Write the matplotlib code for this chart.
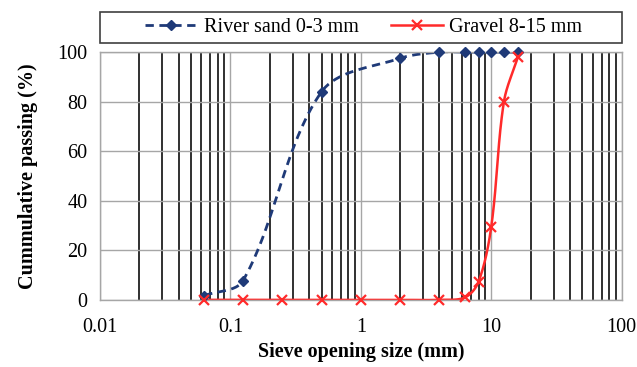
import numpy as np
import matplotlib.pyplot as plt
from matplotlib.lines import Line2D
from matplotlib.patches import Rectangle
from matplotlib.ticker import FixedLocator, FixedFormatter, NullFormatter

plt.rcParams['font.family'] = ['Liberation Serif', 'DejaVu Serif']

# Datos de granulometría (tamaño de tamiz en mm, % que pasa)
tamiz_arena = [0.063, 0.125, 0.5, 2, 4, 6.3, 8, 10, 12.5, 16]
pasa_arena = [1.7, 7.8, 84, 97.5, 100, 100, 100, 100, 100, 100]

tamiz_grava = [0.063, 0.125, 0.25, 0.5, 1, 2, 4, 6.3, 8, 10, 12.5, 16]
pasa_grava = [0, 0, 0, 0, 0, 0, 0, 1, 7.4, 29.6, 80, 98]

etiqueta_arena = "River sand 0-3 mm"
etiqueta_grava = "Gravel 8-15 mm"
ticks_x = [0.01, 0.1, 1, 10, 100]
etiquetas_x = ["0.01", "0.1", "1", "10", "100"]
ticks_y = [0, 20, 40, 60, 80, 100]

color_arena = "#1f3a78"
color_grava = "#ff2a2a"

# escala aproximada en píxeles (por década / por %) para el suavizado
PX_DECADA, PX_PCT = 130.5, 2.48


def curva_suave(x, y, n=40):
    """Línea suavizada estilo Excel (Bezier con tangentes ponderadas por distancia)."""
    p = np.column_stack([np.log10(np.asarray(x, float)) * PX_DECADA,
                         np.asarray(y, float) * PX_PCT])
    p_ext = np.vstack([p[0], p, p[-1]])
    t = np.linspace(0, 1, n)[:, None]
    tramos = []
    for i in range(len(p) - 1):
        p0, p1, p2, p3 = p_ext[i], p_ext[i + 1], p_ext[i + 2], p_ext[i + 3]
        d01 = np.hypot(*(p1 - p0))
        d12 = np.hypot(*(p2 - p1))
        d23 = np.hypot(*(p3 - p2))
        c1 = p1 + (p2 - p0) * d12 / (d01 + d12) / 3
        c2 = p2 - (p3 - p1) * d12 / (d12 + d23) / 3
        b = (1 - t) ** 3 * p1 + 3 * (1 - t) ** 2 * t * c1 + 3 * (1 - t) * t ** 2 * c2 + t ** 3 * p2
        tramos.append(b if i == 0 else b[1:])
    b = np.vstack(tramos)
    return 10 ** (b[:, 0] / PX_DECADA), b[:, 1] / PX_PCT


fig = plt.figure(figsize=(6.37, 3.67), dpi=100)
ax = fig.add_axes([0.157, 0.183, 0.819, 0.675])

ax.set_xscale('log')
ax.set_xlim(0.01, 100)
ax.set_ylim(0, 100)

# Rejilla
ax.xaxis.set_major_locator(FixedLocator(ticks_x))
ax.xaxis.set_major_formatter(FixedFormatter(etiquetas_x))
ax.xaxis.set_minor_locator(FixedLocator([m * 10.0 ** e for e in range(-2, 2) for m in range(2, 10)]))
ax.xaxis.set_minor_formatter(NullFormatter())
ax.set_yticks(ticks_y)
ax.grid(True, which='major', axis='both', color='#a6a6a6', linewidth=1.0)
ax.grid(True, which='minor', axis='x', color='#202020', linewidth=1.3)
ax.set_axisbelow(True)
ax.tick_params(which='both', length=0, labelsize=14.5)
ax.tick_params(axis='x', pad=13)
ax.tick_params(axis='y', pad=9)
for s in ax.spines.values():
    s.set_color('#a6a6a6')
    s.set_linewidth(1.0)

# Curvas
xs, ys = curva_suave(tamiz_arena, pasa_arena)
ax.plot(xs, ys, color=color_arena, linestyle=(0, (3, 2)), linewidth=2.0)
ax.plot(tamiz_arena, pasa_arena, linestyle='none', marker='D', markersize=5.5,
        color=color_arena, clip_on=False, zorder=4)

xg, yg = curva_suave(tamiz_grava, pasa_grava)
ax.plot(xg, yg, color=color_grava, linewidth=1.8)
ax.plot(tamiz_grava, pasa_grava, linestyle='none', marker='x', markersize=7, markeredgewidth=1.6,
        color=color_grava, clip_on=False, zorder=4)

ax.set_xlabel("Sieve opening size (mm)", fontsize=14.5, fontweight='bold', labelpad=4)
ax.set_ylabel("Cummulative passing (%)", fontsize=14.5, fontweight='bold', labelpad=14)

# Leyenda (recuadro dibujado aparte)
fig.patches.append(Rectangle((0.157, 0.883), 0.819, 0.084, transform=fig.transFigure,
                             fill=False, edgecolor='#404040', linewidth=1.2))
h_arena = Line2D([], [], color=color_arena, linestyle=(0, (3, 2)), linewidth=2.0, marker='D', markersize=5.5)
h_grava = Line2D([], [], color=color_grava, linewidth=1.8, marker='x', markersize=7, markeredgewidth=1.6)
leg = fig.legend([h_arena, h_grava], [etiqueta_arena, etiqueta_grava], ncol=2, loc='center',
                 bbox_to_anchor=(0.571, 0.925), fontsize=14.5, frameon=False,
                 handlelength=2.6, handletextpad=0.3, columnspacing=1.6, borderpad=0.2)

fig.savefig("out.png", dpi=100)
